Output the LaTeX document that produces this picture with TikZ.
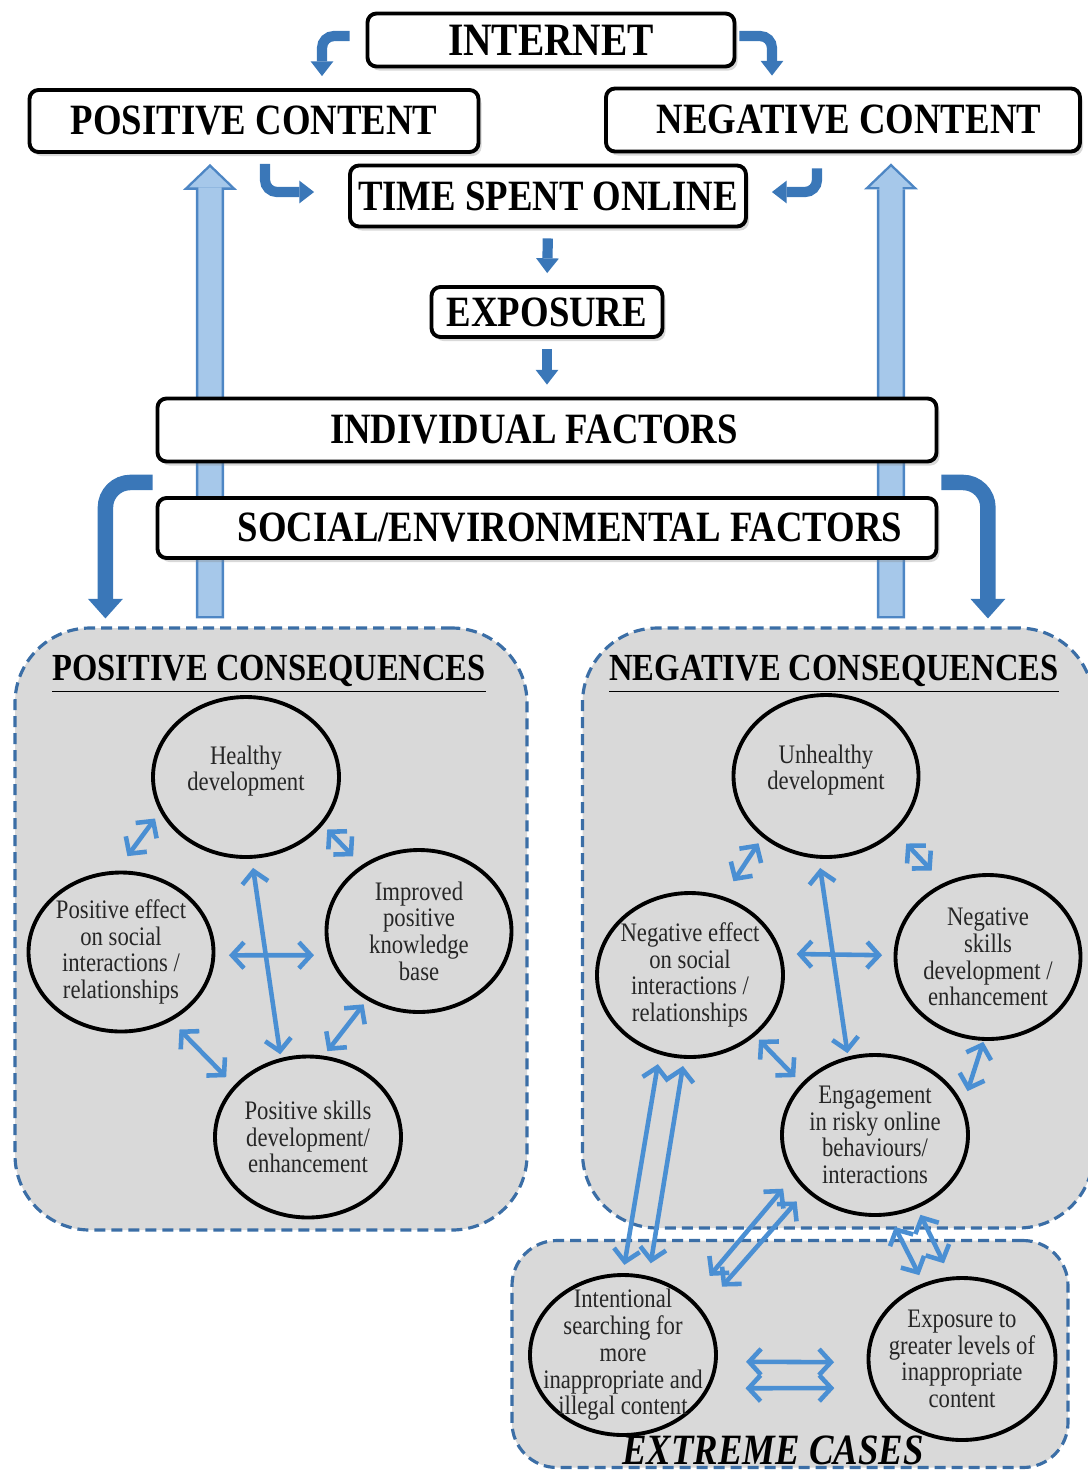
\documentclass[tikz,border=0pt]{standalone}
\usepackage{fontspec}
\setmainfont[FakeStretch=0.85]{Liberation Serif}
\usetikzlibrary{arrows.meta, shapes.geometric, shadows}

\definecolor{linkblue}{HTML}{4A8FD3}
\definecolor{bentblue}{HTML}{3A77B8}
\definecolor{hollowblue}{HTML}{A6C8EA}
\definecolor{hollowline}{HTML}{4D86C4}
\definecolor{dashblue}{HTML}{3B6EA6}
\definecolor{regiongray}{HTML}{D9D9D9}

\tikzset{
    box/.style={draw=black, line width=1.1pt, rounded corners=0.9mm, fill=white, inner sep=0pt,
        font=\fontsize{12.3}{14}\selectfont\bfseries,
        drop shadow={shadow xshift=0.3mm, shadow yshift=-0.4mm, opacity=0.3}},
    region/.style={draw=dashblue, line width=0.9pt, dash pattern=on 1.1mm off 0.6mm,
        fill=regiongray, rounded corners=7.5mm, inner sep=0pt},
    heading/.style={font=\fontsize{10.9}{12}\selectfont\bfseries},
    bubble/.style={ellipse, draw=black, line width=1.1pt, inner sep=-2mm, align=center,
        text=black!85, font=\fontsize{7.6}{7.6}\selectfont},
    link/.style={draw=linkblue, line width=1.3pt,
        {Straight Barb[length=3.4pt,width=7.4pt]}-{Straight Barb[length=3.4pt,width=7.4pt]}},
    bent/.style={draw=bentblue, line width=2.9pt, rounded corners=1.2mm,
        -{Triangle[width=6.5pt,length=4.2pt,line width=0pt]}},
    bigbent/.style={draw=bentblue, line width=4.4pt, rounded corners=2.5mm,
        -{Triangle[width=10pt,length=5.6pt,line width=0pt]}},
    hollowedge/.style={draw=hollowline, line width=8pt,
        -{Triangle[width=15.4pt,length=7.4pt,line width=0pt]}},
    hollowfill/.style={draw=hollowblue, line width=6.6pt,
        -{Triangle[width=11.9pt,length=5.7pt,line width=0pt]}},
}

\begin{document}
\begin{tikzpicture}[x=0.1mm, y=-0.1mm]
    \useasboundingbox (0,0) rectangle (1088,1470);

    % top of the chain
    \node[box, minimum width=36.7mm, minimum height=5.3mm, font=\fontsize{13.2}{15}\selectfont\bfseries] (internet) at (551,40) {INTERNET};
    \node[box, minimum width=44.9mm, minimum height=6.2mm] (poscontent) at (254,121) {POSITIVE CONTENT};
    \node[box, minimum width=47.4mm, minimum height=6.3mm] (negcontent) at (843,120) {\hspace*{1.2mm}NEGATIVE CONTENT};
    \node[box, minimum width=39.6mm, minimum height=6.1mm] (timespent) at (548,196) {TIME SPENT ONLINE};
    \node[box, minimum width=23.1mm, minimum height=5mm] (exposure) at (547,312) {EXPOSURE};

    % consequence areas
    \node[region, minimum width=51.2mm, minimum height=60.2mm] (posregion) at (271,929) {};
    \node[region, minimum width=51.1mm, minimum height=60mm] (negregion) at (838,928) {};
    \node[region, rounded corners=4.5mm, minimum width=55.6mm, minimum height=22.7mm] (extregion) at (790,1354) {};

    % feedback arrows, they pass behind the factor boxes
    \draw[hollowedge, shorten <=2.28pt, shorten >=2.85pt] ([xshift=-6.1mm]posregion.north) -- ([xshift=-4.4mm]poscontent.south);
    \draw[hollowfill, shorten <=2.98pt, shorten >=3.82pt] ([xshift=-6.1mm]posregion.north) -- ([xshift=-4.4mm]poscontent.south);
    \draw[hollowedge, shorten <=2.28pt, shorten >=2.85pt] ([xshift=5.3mm]negregion.north) -- ([xshift=4.8mm]negcontent.south);
    \draw[hollowfill, shorten <=2.98pt, shorten >=3.82pt] ([xshift=5.3mm]negregion.north) -- ([xshift=4.8mm]negcontent.south);

    \node[box, minimum width=77.9mm, minimum height=6.3mm] (indiv) at (547,430) {INDIVIDUAL FACTORS\hspace*{2.6mm}};
    \node[box, minimum width=77.9mm, minimum height=6mm] (social) at (547,528) {\hspace*{4.6mm}SOCIAL/ENVIRONMENTAL FACTORS};

    % flow between the boxes
    \draw[bent, shorten <=1.6mm, shorten >=1.2mm] ([yshift=0.4mm]internet.west) -| ([xshift=6.8mm]poscontent.north);
    \draw[bent, shorten <=0.3mm, shorten >=1.1mm] ([yshift=0.4mm]internet.east) -| ([xshift=-7.1mm]negcontent.north);
    \draw[bent, shorten <=1mm, shorten >=3.4mm] ([xshift=1.1mm]poscontent.south) |- ([yshift=0.4mm]timespent.west);
    \draw[bent, shorten <=1.5mm, shorten >=2.4mm] ([xshift=-2.6mm]negcontent.south) |- ([yshift=0.4mm]timespent.east);
    \draw[bent, shorten <=1mm, shorten >=1.2mm] (timespent.south) -- (exposure.north);
    \draw[bent, shorten <=1mm, shorten >=1.2mm] (exposure.south) -- (indiv.north);
    \draw[bigbent, shorten <=0.3mm, shorten >=0.8mm] ([yshift=-1.9mm]indiv.south west) -| ([xshift=9.2mm]posregion.north west);
    \draw[bigbent, shorten <=0.3mm, shorten >=0.8mm] ([yshift=-1.9mm]indiv.south east) -| ([xshift=40.7mm]negregion.north west);

    % headings
    \node[heading] (postitle) at (269,674) {\underline{POSITIVE CONSEQUENCES}};
    \node[heading] (negtitle) at (834,674) {\underline{NEGATIVE CONSEQUENCES}};
    \node[font=\fontsize{12.3}{14}\selectfont\bfseries\itshape] (exttitle) at (773,1450) {EXTREME CASES};

    % positive side
    \node[bubble, minimum width=18.6mm, minimum height=16mm] (healthy) at (246,777) {Healthy\\development\\[-0.9mm]~};
    \node[bubble, minimum width=18.5mm, minimum height=15.9mm] (poseffect) at (121,952) {Positive effect\\on social\\interactions /\\relationships};
    \node[bubble, minimum width=18.5mm, minimum height=16.2mm] (improved) at (419,931) {Improved\\positive\\knowledge\\base};
    \node[bubble, minimum width=18.6mm, minimum height=16.1mm] (posskills) at (308,1137) {Positive skills\\development/\\enhancement};

    % negative side
    \node[bubble, minimum width=18.5mm, minimum height=16.2mm] (unhealthy) at (826,776) {Unhealthy\\development\\[-0.9mm]~};
    \node[bubble, minimum width=18.6mm, minimum height=16.4mm] (negeffect) at (690,975) {Negative effect\\on social\\interactions /\\relationships};
    \node[bubble, minimum width=18.5mm, minimum height=16.4mm] (negskills) at (988,957) {Negative\\skills\\development /\\enhancement};
    \node[bubble, minimum width=18.6mm, minimum height=16mm] (engage) at (875,1135) {Engagement\\in risky online\\behaviours/\\interactions};

    % extreme cases
    \node[bubble, minimum width=18.6mm, minimum height=16mm] (intent) at (623,1355) {Intentional\\searching for\\more\\inappropriate and\\illegal content};
    \node[bubble, minimum width=18.7mm, minimum height=16.2mm] (greater) at (962,1359) {Exposure to\\greater levels of\\inappropriate\\content};

    \path
        (healthy.202) edge [link, shorten <=0.84mm, shorten >=1.8mm] (poseffect.93)
        (healthy.328) edge [link, shorten <=0.62mm, shorten >=1.23mm] (improved.131)
        (healthy.274) edge [link, shorten <=0.92mm, shorten >=0.38mm] (posskills.109)
        (poseffect.358) edge [link, shorten <=1.36mm, shorten >=1.47mm] (improved.195)
        (poseffect.306) edge [link, shorten <=1.19mm, shorten >=1.13mm] (posskills.145)
        (improved.233) edge [link, shorten <=0.53mm, shorten >=0.58mm] (posskills.79)
        ;
    \path
        (unhealthy.224) edge [link, shorten <=0.71mm, shorten >=1.82mm] (negeffect.67)
        (unhealthy.321) edge [link, shorten <=1.56mm, shorten >=1.72mm] (negskills.121)
        (unhealthy.265) edge [link, shorten <=0.94mm, shorten >=0.34mm] (engage.109)
        (negeffect.13) edge [link, shorten <=1.48mm, shorten >=1.15mm] (negskills.179)
        (negeffect.317) edge [link, shorten <=0.53mm, shorten >=0.87mm] (engage.145)
        (negskills.267) edge [link, shorten <=0.11mm, shorten >=1.42mm] (engage.19)
        ;
    \path
        (negeffect.249) edge [link, shorten <=0.98mm, shorten >=0.83mm] (intent.90)
        (negeffect.266) edge [link, shorten <=0.73mm, shorten >=1.3mm] (intent.72)
        (engage.207) edge [link, shorten <=1.57mm, shorten >=2.88mm] (intent.40)
        (engage.219) edge [link, shorten <=1.38mm, shorten >=3.04mm] (intent.30)
        (engage.280) edge [link, shorten <=1.22mm, shorten >=0.9mm] (greater.117)
        (engage.300) edge [link, shorten <=0.72mm, shorten >=1.49mm] (greater.98)
        (intent.356) edge [link, shorten <=2.84mm, shorten >=3.26mm] (greater.182)
        (intent.339) edge [link, shorten <=3.58mm, shorten >=3.83mm] (greater.198)
        ;
\end{tikzpicture}
\end{document}
